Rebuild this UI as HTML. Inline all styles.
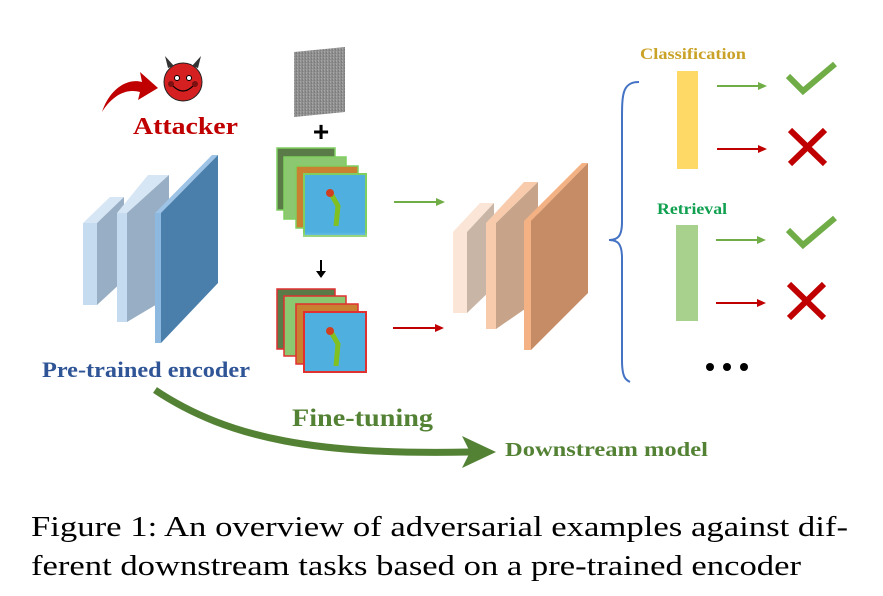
<!DOCTYPE html>
<html><head><meta charset="utf-8"><style>html,body{margin:0;padding:0;background:#fff}svg{display:block}
text{font-family:"Liberation Serif","Times New Roman",Times,serif}
.sans{font-family:"Liberation Sans",Arial,sans-serif}</style></head>
<body>
<svg width="883" height="596" viewBox="0 0 883 596" xmlns="http://www.w3.org/2000/svg">
<defs>
<linearGradient id="fade" x1="0" y1="0" x2="0" y2="1"><stop offset="0" stop-color="#fff" stop-opacity="0"/><stop offset="1" stop-color="#fff" stop-opacity="1"/></linearGradient>
<pattern id="noise" width="3" height="3" patternUnits="userSpaceOnUse"><rect width="3" height="3" fill="#8f8f8f"/><rect width="1" height="2" fill="#a3a3a3"/><rect x="2" y="1" width="1" height="2" fill="#7d7d7d"/></pattern>
</defs>

<!-- encoder -->
<g>
 <polygon points="83,223 110,197 124,197 97,223" fill="#d6e6f5"/>
 <rect x="83" y="223" width="14" height="82" fill="#c5dcf0"/>
 <polygon points="97,223 124,197 124,280 97,305" fill="#98aec4"/>
 <polygon points="117,213 148,175 169,175 127,213" fill="#d6e6f5"/>
 <rect x="117" y="213" width="10" height="109" fill="#c5dcf0"/>
 <polygon points="127,213 169,175 169,297 127,322" fill="#98aec4"/>
 <polygon points="155,213 212,155 218,155 161,213" fill="#9dc3e6"/>
 <rect x="155" y="213" width="6" height="130" fill="#8db8e0"/>
 <polygon points="161,213 218,155 218,283 161,343" fill="#4a7eab"/>
</g>

<!-- attacker -->
<path d="M102,112 C110,88 128,78 142,82 L140,72 L158,88 L138,100 L140,92 C126,88 112,96 102,112 Z" fill="#c00000"/>
<circle cx="183" cy="82" r="19" fill="#d42020" stroke="#222" stroke-width="1"/>
<path d="M168,68 L165,56 L174,66 Z M198,68 L201,56 L192,66 Z" fill="#333"/>
<circle cx="177" cy="78" r="2.5" fill="#fff" stroke="#000" stroke-width="1"/>
<circle cx="189" cy="78" r="2.5" fill="#fff" stroke="#000" stroke-width="1"/>
<circle cx="171" cy="84" r="3" fill="#7a1010"/><circle cx="195" cy="84" r="3" fill="#7a1010"/>
<path d="M173,86 Q183,96 193,86" stroke="#000" stroke-width="1.2" fill="none"/>
<text x="133" y="134" font-weight="bold" font-size="24" fill="#c00000" textLength="105" lengthAdjust="spacingAndGlyphs">Attacker</text>

<!-- noise -->
<polygon points="294,52 345,47 345,112 294,117" fill="url(#noise)"/>
<text class="sans" x="321" y="141" font-weight="bold" font-size="28" fill="#000" text-anchor="middle">+</text>

<!-- stack 1 -->
<g>
 <rect x="277" y="148" width="58" height="62" fill="#5a7a48" stroke="#7fcf60" stroke-width="1.5"/>
 <rect x="284" y="157" width="62" height="62" fill="#8cc870" stroke="#7fcf60" stroke-width="1.5"/>
 <rect x="296" y="166" width="62" height="62" fill="#c98030" stroke="#7fcf60" stroke-width="1.5"/>
 <rect x="304" y="174" width="62" height="62" fill="#4fb0e0" stroke="#7fcf60" stroke-width="2"/>
 <path d="M330,192 L338,206 L336,226" stroke="#80c020" stroke-width="5" fill="none"/>
 <circle cx="330" cy="193" r="4" fill="#d04020"/>
 <rect x="272" y="232" width="96" height="22" fill="url(#fade)"/>
</g>
<path d="M321,260 L321,272" stroke="#000" stroke-width="2"/><polygon points="316,271 326,271 321,278" fill="#000"/>
<!-- stack 2 -->
<g>
 <rect x="277" y="289" width="58" height="60" fill="#5a7a48" stroke="#e03030" stroke-width="1.5"/>
 <rect x="284" y="296" width="62" height="60" fill="#8cc870" stroke="#e03030" stroke-width="1.5"/>
 <rect x="296" y="304" width="62" height="60" fill="#c98030" stroke="#e03030" stroke-width="1.5"/>
 <rect x="304" y="312" width="62" height="60" fill="#4fb0e0" stroke="#e03030" stroke-width="2"/>
 <path d="M330,330 L338,344 L336,366" stroke="#80c020" stroke-width="5" fill="none"/>
 <circle cx="330" cy="331" r="4" fill="#d04020"/>
</g>

<!-- arrows into downstream -->
<path d="M394,202 L438,202" stroke="#70ad47" stroke-width="2"/><polygon points="436,198 445,202 436,206" fill="#70ad47"/>
<path d="M393,328 L437,328" stroke="#c00000" stroke-width="2"/><polygon points="435,324 444,328 435,332" fill="#c00000"/>

<!-- downstream model -->
<g>
 <polygon points="453,232 480,203 494,203 467,232" fill="#fbe5d6"/>
 <rect x="453" y="232" width="14" height="81" fill="#fbe5d6"/>
 <polygon points="467,232 494,203 494,287 467,313" fill="#c9b5a5"/>
 <polygon points="486,223 524,182 538,182 496,223" fill="#f8cbad"/>
 <rect x="486" y="223" width="10" height="106" fill="#f8cbad"/>
 <polygon points="496,223 538,182 538,300 496,329" fill="#c7a489"/>
 <polygon points="524,221 582,163 588,163 531,221" fill="#f4b183"/>
 <rect x="524" y="221" width="7" height="129" fill="#f4b183"/>
 <polygon points="531,221 588,163 588,293 531,350" fill="#c58c65"/>
</g>

<!-- brace -->
<path d="M639,82 C622,82 622,95 622,120 L622,222 C622,236 618,240 609,240 C618,240 622,244 622,258 L622,360 C622,378 626,380 630,382" stroke="#4472c4" stroke-width="2" fill="none"/>

<text x="640" y="59" font-weight="bold" font-size="16" fill="#c9a227" textLength="106" lengthAdjust="spacingAndGlyphs">Classification</text>
<rect x="677" y="71" width="21" height="98" fill="#ffd966"/>
<text x="657" y="214" font-weight="bold" font-size="16" fill="#10a050" textLength="70" lengthAdjust="spacingAndGlyphs">Retrieval</text>
<rect x="676" y="225" width="22" height="96" fill="#a9d18e"/>

<g stroke-width="2">
<path d="M717,86 L760,86" stroke="#70ad47"/><polygon points="758,82 767,86 758,90" fill="#70ad47"/>
<path d="M717,149 L760,149" stroke="#c00000"/><polygon points="758,145 767,149 758,153" fill="#c00000"/>
<path d="M716,240 L759,240" stroke="#70ad47"/><polygon points="757,236 766,240 757,244" fill="#70ad47"/>
<path d="M716,303 L759,303" stroke="#c00000"/><polygon points="757,299 766,303 757,307" fill="#c00000"/>
</g>
<path d="M788,76 L803,91 L835,64" stroke="#70ad47" stroke-width="6" fill="none"/>
<path d="M790,130 L825,164 M825,130 L790,164" stroke="#c00000" stroke-width="6"/>
<path d="M788,230 L803,245 L835,218" stroke="#70ad47" stroke-width="6" fill="none"/>
<path d="M789,284 L824,318 M824,284 L789,318" stroke="#c00000" stroke-width="6"/>
<circle cx="710" cy="367" r="4" fill="#000"/><circle cx="727" cy="367" r="4" fill="#000"/><circle cx="744" cy="367" r="4" fill="#000"/>

<text x="42" y="377" font-weight="bold" font-size="22" fill="#2f5597" textLength="208" lengthAdjust="spacingAndGlyphs">Pre-trained encoder</text>

<!-- big green arrow -->
<path d="M155,390 C230,440 320,455 470,452" stroke="#548235" stroke-width="7" fill="none"/>
<polygon points="462,436 496,452 462,468 470,452" fill="#548235"/>
<text x="292" y="426" font-weight="bold" font-size="25" fill="#548235" textLength="141" lengthAdjust="spacingAndGlyphs">Fine-tuning</text>
<text x="505" y="456" font-weight="bold" font-size="20" fill="#548235" textLength="203" lengthAdjust="spacingAndGlyphs">Downstream model</text>

<text x="31" y="536" font-size="29" fill="#000" textLength="817" lengthAdjust="spacingAndGlyphs">Figure 1: An overview of adversarial examples against dif-</text>
<text x="31" y="575" font-size="29" fill="#000" textLength="770" lengthAdjust="spacingAndGlyphs">ferent downstream tasks based on a pre-trained encoder</text>
</svg>
</body></html>
